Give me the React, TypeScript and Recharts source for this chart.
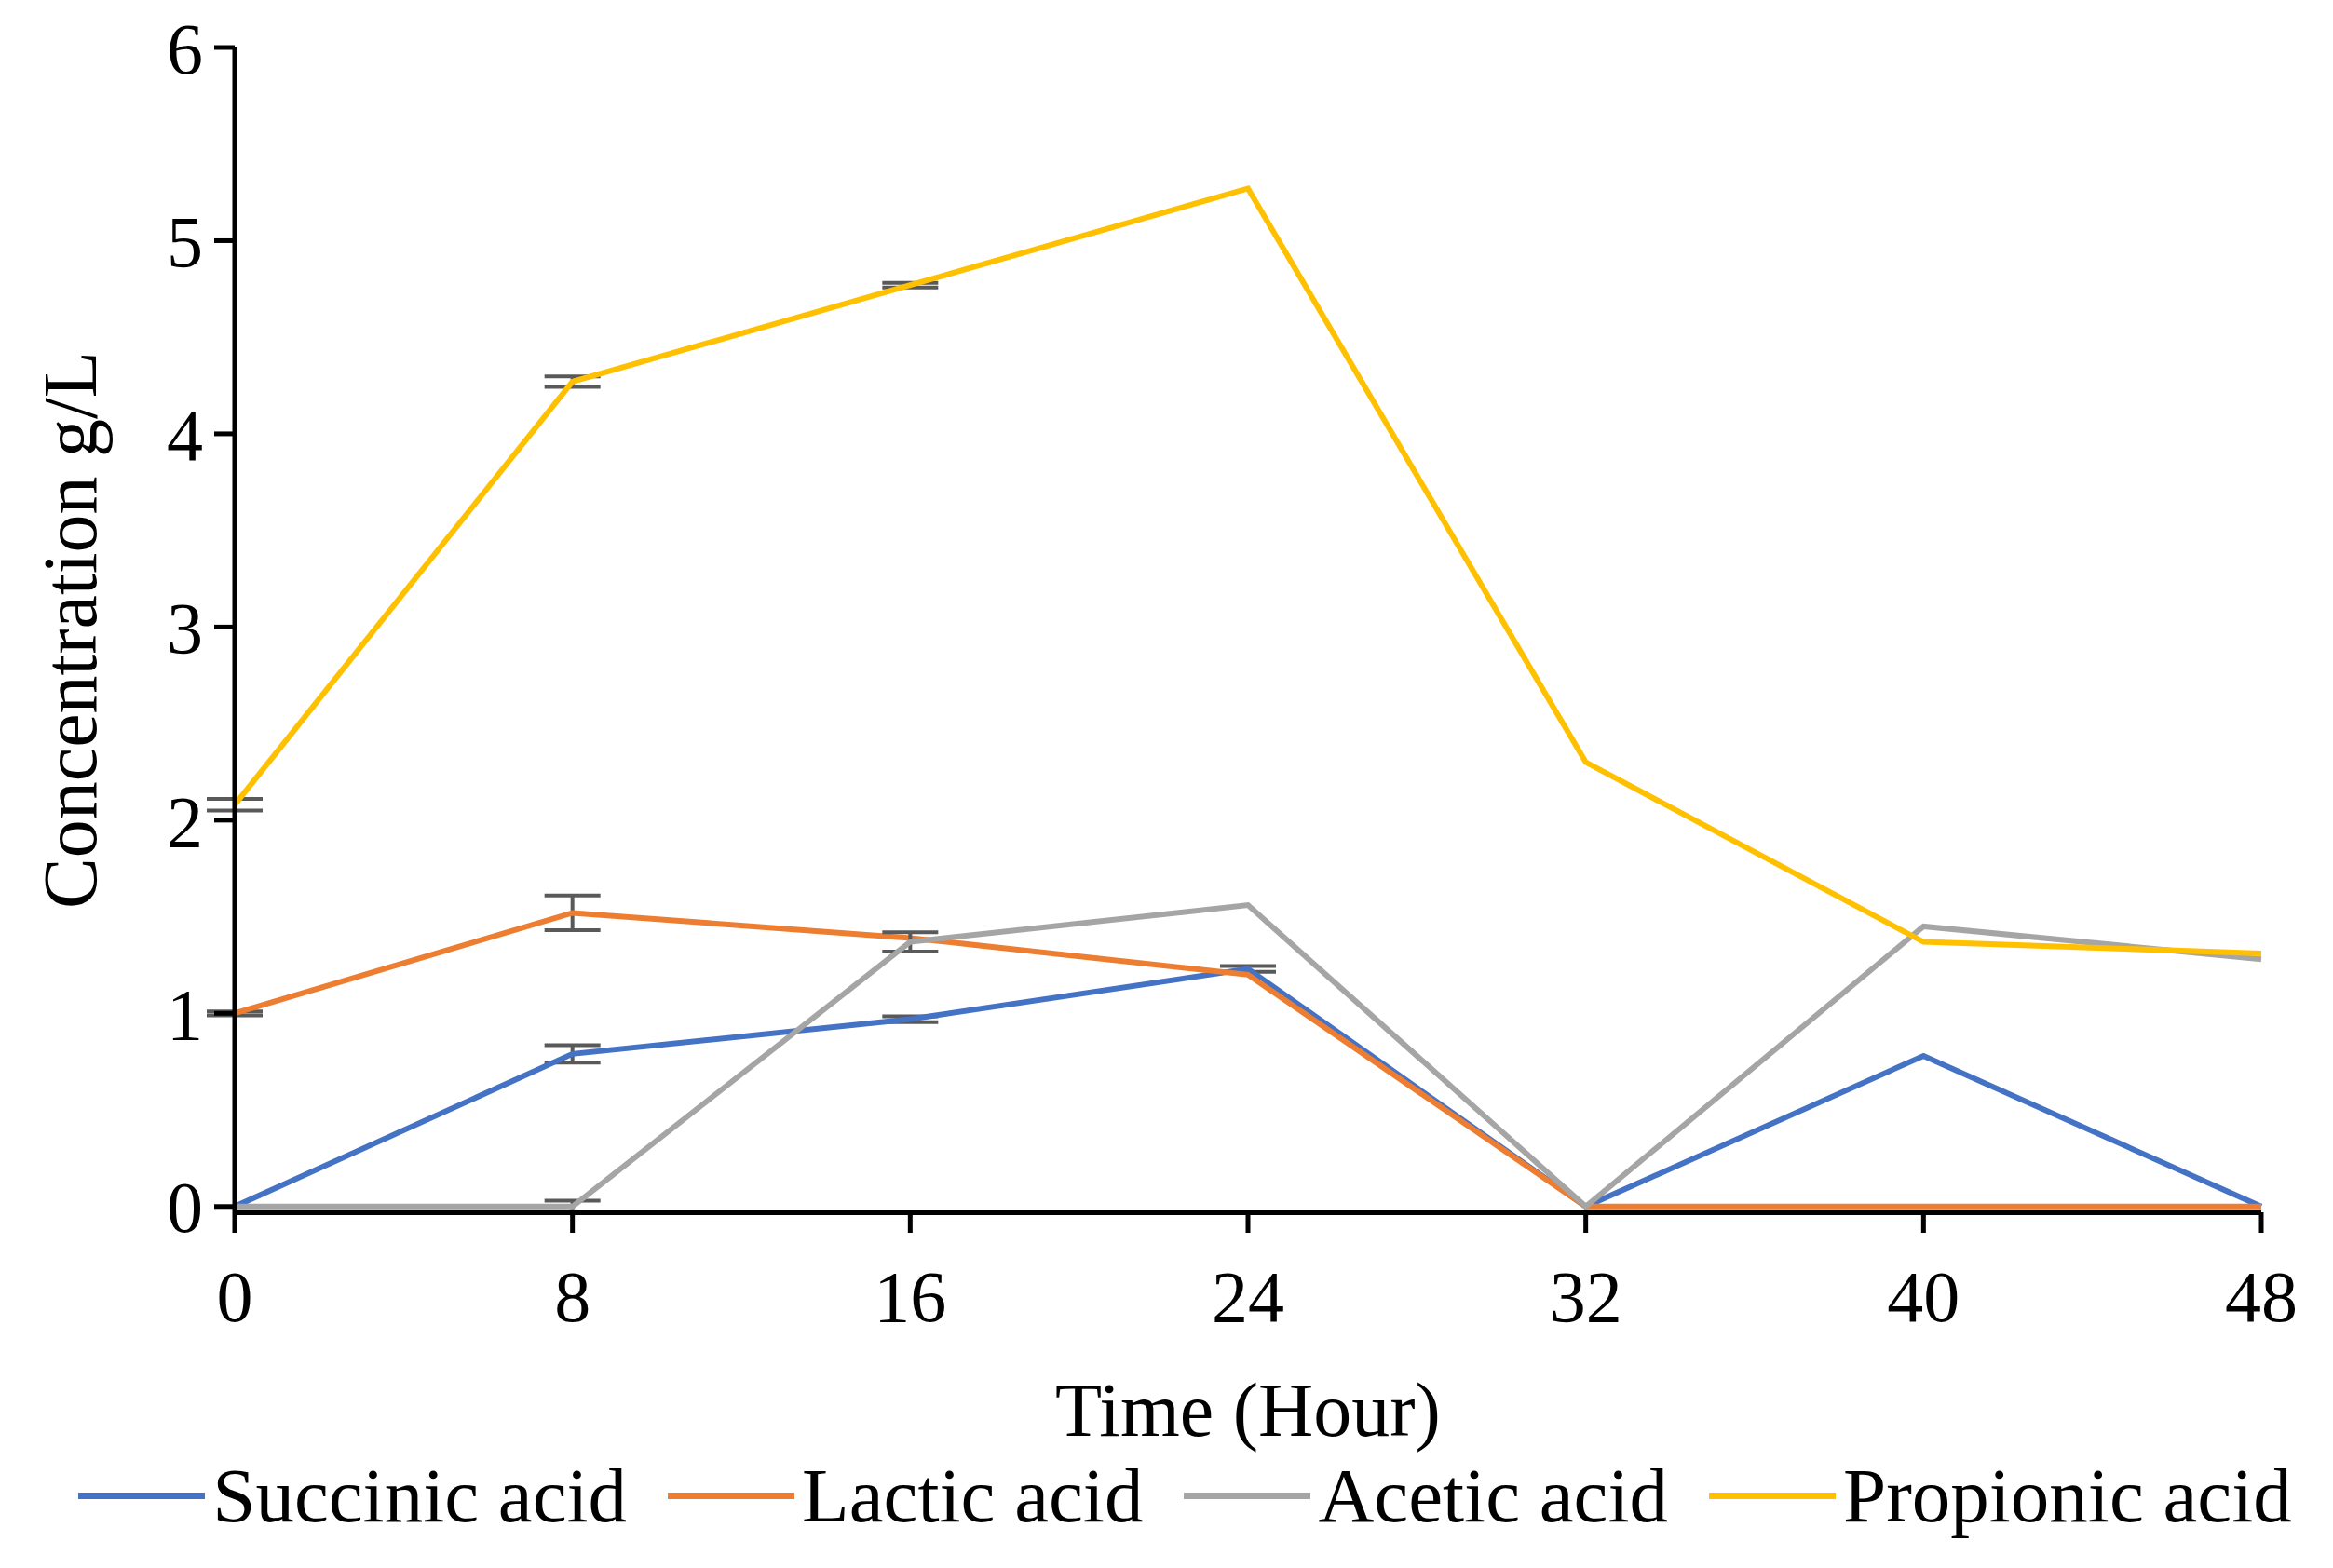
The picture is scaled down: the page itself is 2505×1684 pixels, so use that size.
import React from "react"
import { LineChart, Line, XAxis, YAxis, Legend, ErrorBar, Label } from "recharts"

const FONT = '"Times New Roman", "Liberation Serif", serif'

const hours = [0, 8, 16, 24, 32, 40, 48]
const succinic = [0, 0.79, 0.97, 1.23, 0, 0.78, 0]
const succinicErr = [0, 0.045, 0.015, 0.015, 0, 0, 0]
const lactic = [1.0, 1.52, 1.39, 1.2, 0, 0, 0]
const lacticErr = [0.01, 0.09, 0, 0, 0, 0, 0]
const acetic = [0, 0, 1.37, 1.56, 0, 1.45, 1.28]
const aceticErr = [0, 0.03, 0.05, 0, 0, 0, 0]
const propionic = [2.08, 4.27, 4.77, 5.27, 2.3, 1.37, 1.31]
const propionicErr = [0.03, 0.027, 0.012, 0, 0, 0, 0]

const xTicks = [0, 8, 16, 24, 32, 40, 48]
const yTicks = [0, 1, 2, 3, 4, 5, 6]

const series = [
  { key: "succinic", err: "succinicErr", name: "Succinic acid", color: "#4472C4" },
  { key: "lactic", err: "lacticErr", name: "Lactic acid", color: "#ED7D31" },
  { key: "acetic", err: "aceticErr", name: "Acetic acid", color: "#A5A5A5" },
  { key: "propionic", err: "propionicErr", name: "Propionic acid", color: "#FFC000" },
]

const data = hours.map((h, i) => ({
  hour: h,
  succinic: succinic[i],
  succinicErr: succinicErr[i],
  lactic: lactic[i],
  lacticErr: lacticErr[i],
  acetic: acetic[i],
  aceticErr: aceticErr[i],
  propionic: propionic[i],
  propionicErr: propionicErr[i],
}))

const renderLegend = () => (
  <div style={{ display: "flex", justifyContent: "center", alignItems: "center", fontFamily: FONT, fontSize: 83, color: "#000", paddingLeft: 40 }}>
    {series.map((s) => (
      <div key={s.key} style={{ display: "flex", alignItems: "center", margin: "0 22px" }}>
        <span style={{ display: "inline-block", width: 136, height: 7, background: s.color, marginRight: 8 }} />
        <span>{s.name}</span>
      </div>
    ))}
  </div>
)

export default function App() {
  return (
    <div style={{ position: "absolute", left: 0, top: 0, background: "#fff" }}>
      <LineChart width={2505} height={1684} data={data} margin={{ top: 51, right: 77, left: 0, bottom: 0 }}>
        <XAxis
          dataKey="hour"
          type="number"
          domain={[0, 48]}
          ticks={xTicks}
          height={272}
          stroke="#000"
          axisLine={{ stroke: "#000", strokeWidth: 6 }}
          tickLine={{ stroke: "#000", strokeWidth: 5 }}
          tickSize={22}
          tickMargin={40}
          tick={{ fill: "#000", fontSize: 78, fontFamily: FONT }}
        >
          <Label value="Time (Hour)" position="insideTop" offset={182} style={{ fill: "#000", fontSize: 82, fontFamily: FONT }} />
        </XAxis>
        <YAxis
          type="number"
          domain={[0, 6]}
          ticks={yTicks}
          width={252}
          axisLine={{ stroke: "#000", strokeWidth: 5 }}
          tickLine={{ stroke: "#000", strokeWidth: 5 }}
          tickSize={22}
          tickMargin={12}
          tick={{ fill: "#000", fontSize: 78, fontFamily: FONT }}
        >
          <Label
            value="Concentration g/L"
            angle={-90}
            position="insideLeft"
            offset={74}
            style={{ fill: "#000", fontSize: 82, fontFamily: FONT, textAnchor: "middle" }}
          />
        </YAxis>
        <Legend verticalAlign="bottom" content={renderLegend} wrapperStyle={{ top: 1558, left: 0, width: 2505, height: 110 }} />
        {series.map((s) => (
          <Line
            key={s.key}
            type="linear"
            dataKey={s.key}
            name={s.name}
            stroke={s.color}
            strokeWidth={6}
            dot={false}
            activeDot={false}
            isAnimationActive={false}
          >
            <ErrorBar dataKey={s.err} width={30} stroke="#595959" strokeWidth={4} direction="y" />
          </Line>
        ))}
      </LineChart>
    </div>
  )
}
